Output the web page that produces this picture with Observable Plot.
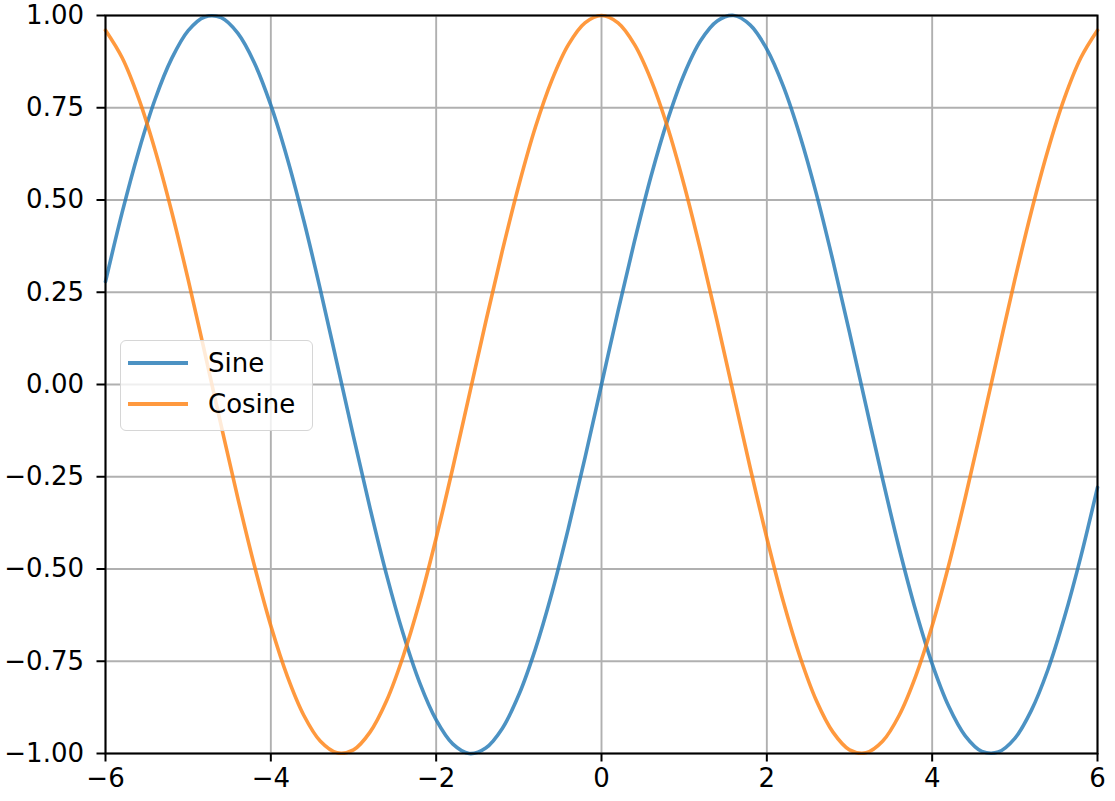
<!DOCTYPE html>
<html>
<head>
<meta charset="utf-8">
<script src="https://cdn.jsdelivr.net/npm/d3@7"></script>
<script src="https://cdn.jsdelivr.net/npm/@observablehq/plot@0.6"></script>
<style>
  html, body { margin: 0; padding: 0; background: #fff; }
  #wrap { position: relative; width: 1115px; height: 801px; font-family: "DejaVu Sans", sans-serif; }
  #legend { position: absolute; left: 120px; top: 340px; width: 193px; height: 91px;
    border: 1.5px solid #d6d6d6; border-radius: 6px; background: rgba(255,255,255,0.8); box-sizing: border-box; }
  #legend .row { position: absolute; left: 0; height: 40px; display: flex; align-items: center; }
  #legend .sw { width: 60px; height: 3.6px; margin-left: 7px; margin-right: 20px; }
  #legend .lab { font-size: 26px; color: #000; }
</style>
</head>
<body>
<div id="wrap"></div>
<script>
const xs = [-6.0,-5.8,-5.6,-5.4,-5.2,-5.0,-4.8,-4.6,-4.4,-4.2,-4.0,-3.8,-3.6,-3.4,-3.2,-3.0,-2.8,-2.6,-2.4,-2.2,-2.0,-1.8,-1.6,-1.4,-1.2,-1.0,-0.8,-0.6,-0.4,-0.2,0.0,
  0.2,0.4,0.6,0.8,1.0,1.2,1.4,1.6,1.8,2.0,2.2,2.4,2.6,2.8,3.0,3.2,3.4,3.6,3.8,4.0,4.2,4.4,4.6,4.8,5.0,5.2,5.4,5.6,5.8,6.0];
const sineValues = [0.279,0.465,0.631,0.773,0.883,0.959,0.996,0.994,0.952,0.872,0.757,0.612,0.443,0.256,0.058,-0.141,-0.335,-0.516,-0.675,-0.808,-0.909,-0.974,-1.000,-0.985,-0.932,-0.841,-0.717,-0.565,-0.389,-0.199,0.000,
  0.199,0.389,0.565,0.717,0.841,0.932,0.985,1.000,0.974,0.909,0.808,0.675,0.516,0.335,0.141,-0.058,-0.256,-0.443,-0.612,-0.757,-0.872,-0.952,-0.994,-0.996,-0.959,-0.883,-0.773,-0.631,-0.465,-0.279];
const cosineValues = [0.960,0.886,0.776,0.635,0.469,0.284,0.087,-0.112,-0.307,-0.490,-0.654,-0.791,-0.897,-0.967,-0.998,-0.990,-0.942,-0.857,-0.737,-0.589,-0.416,-0.227,-0.029,0.170,0.362,0.540,0.697,0.825,0.921,0.980,1.000,
  0.980,0.921,0.825,0.697,0.540,0.362,0.170,-0.029,-0.227,-0.416,-0.589,-0.737,-0.857,-0.942,-0.990,-0.998,-0.967,-0.897,-0.791,-0.654,-0.490,-0.307,-0.112,0.087,0.284,0.469,0.635,0.776,0.886,0.960];
const seriesNames = ["Sine", "Cosine"];
const seriesColors = ["#1f77b4", "#ff7f0e"];
const xTicks = [-6, -4, -2, 0, 2, 4, 6];
const yTicks = [-1, -0.75, -0.5, -0.25, 0, 0.25, 0.5, 0.75, 1];

const sine = xs.map((x, i) => ({x, y: sineValues[i], s: "Sine"}));
const cosine = xs.map((x, i) => ({x, y: cosineValues[i], s: "Cosine"}));
const fmtY = d3.format(".2f");

const chart = Plot.plot({
  width: 1115,
  height: 801,
  marginLeft: 105,
  marginRight: 18,
  marginTop: 15,
  marginBottom: 48,
  style: {fontFamily: "DejaVu Sans, sans-serif", fontSize: "26px", background: "#fff", color: "#000"},
  x: {domain: [-6, 6]},
  y: {domain: [-1, 1]},
  color: {domain: seriesNames, range: seriesColors},
  marks: [
    Plot.gridX(xTicks, {stroke: "#b0b0b0", strokeOpacity: 1, strokeWidth: 1.9}),
    Plot.gridY(yTicks, {stroke: "#b0b0b0", strokeOpacity: 1, strokeWidth: 1.9}),
    Plot.line(sine, {x: "x", y: "y", stroke: "s", strokeWidth: 3.6, strokeOpacity: 0.8, curve: "catmull-rom"}),
    Plot.line(cosine, {x: "x", y: "y", stroke: "s", strokeWidth: 3.6, strokeOpacity: 0.8, curve: "catmull-rom"}),
    Plot.frame({stroke: "#000", strokeWidth: 2}),
    Plot.axisX(xTicks, {tickSize: 8.5, tickPadding: 7, strokeWidth: 2, fontSize: 26, label: null, tickFormat: d3.format("d")}),
    Plot.axisY(yTicks, {tickSize: 8.5, tickPadding: 13, strokeWidth: 2, fontSize: 26, label: null, tickFormat: fmtY})
  ]
});

const wrap = document.getElementById("wrap");
wrap.appendChild(chart);

const legend = document.createElement("div");
legend.id = "legend";
seriesNames.forEach((name, i) => {
  const row = document.createElement("div");
  row.className = "row";
  row.style.top = (i === 0 ? 2 : 43) + "px";
  const sw = document.createElement("div");
  sw.className = "sw";
  sw.style.background = seriesColors[i];
  sw.style.opacity = 0.8;
  const lab = document.createElement("span");
  lab.className = "lab";
  lab.textContent = name;
  row.appendChild(sw);
  row.appendChild(lab);
  legend.appendChild(row);
});
wrap.appendChild(legend);
</script>
</body>
</html>
